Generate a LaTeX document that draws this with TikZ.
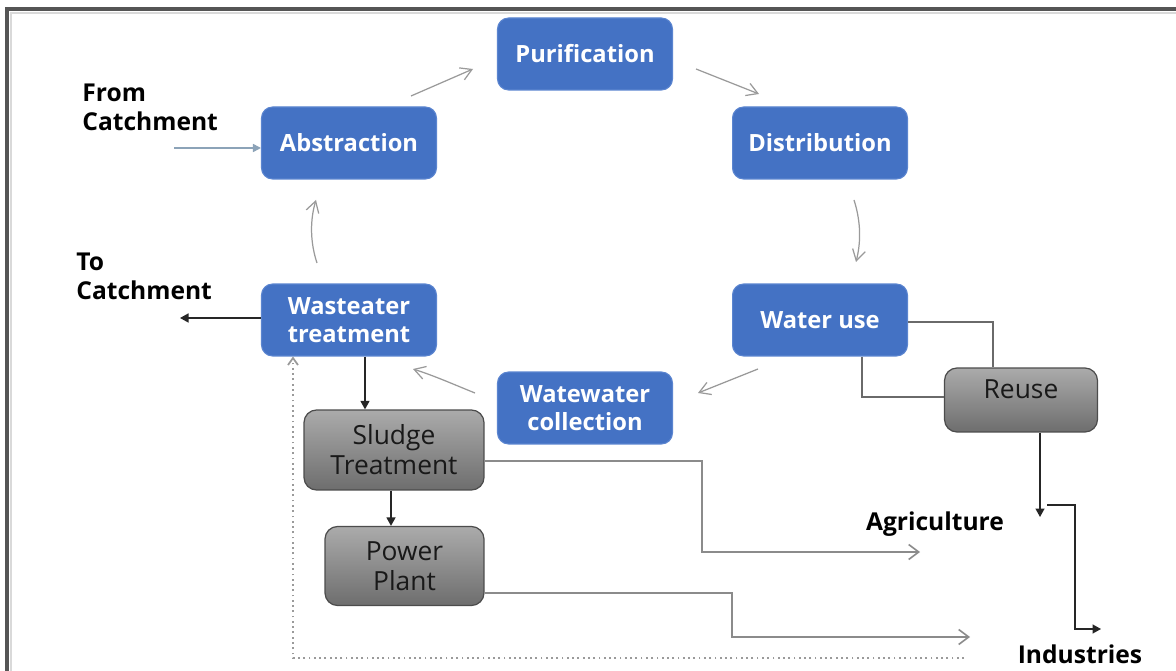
\documentclass[tikz,border=0pt]{standalone}
\usepackage{fontspec}
\setmainfont{Open Sans}
\usetikzlibrary{arrows.meta}
\definecolor{boxblue}{HTML}{4472C4}
\definecolor{boxblueedge}{HTML}{5B85D0}
\definecolor{arrgray}{HTML}{9A9A9A}
\definecolor{linegray}{HTML}{6A6A6A}
\definecolor{frame}{HTML}{555555}
\definecolor{fromblue}{HTML}{8CA3B8}
\begin{document}
\begin{tikzpicture}[x=0.02cm,y=-0.02cm,
  bluebox/.style={draw=boxblueedge,line width=0.6pt,fill=boxblue,rounded corners=0.22cm,
    text=white,font=\fontsize{13.5}{16}\selectfont\bfseries,align=center,
    minimum width=3.5cm,minimum height=1.44cm,inner sep=2pt},
  graybox/.style={draw=black!70,line width=0.7pt,rounded corners=0.25cm,
    top color=black!33,bottom color=black!57,
    text=black!90,font=\fontsize{15}{17}\selectfont,align=center,inner sep=2pt},
  lbl/.style={font=\fontsize{14}{16}\selectfont\bfseries,align=left,text=black},
  softarr/.style={draw=arrgray,line width=0.7pt,-{Straight Barb[length=2.2mm,width=2.6mm]}},
  blackarr/.style={draw=black!85,line width=0.8pt,-{Triangle[length=1.7mm,width=1.8mm]}},
  plainline/.style={draw=linegray,line width=0.8pt},
  openarr/.style={draw=arrgray!90!black,line width=0.9pt,-{Straight Barb[length=2mm,width=3mm]}},
]
\useasboundingbox (0,0) rectangle (1176,671);
\fill[white] (0,0) rectangle (1176,671);
% frame
\draw[frame,line width=2.2pt] (1176,9) -- (7,9) -- (7,671);
\draw[black!15,line width=1pt] (1176,13) -- (11,13) -- (11,671);

% nodes
\node[bluebox] (pur) at (585,54) {Purification};
\node[bluebox] (abs) at (349,143) {Abstraction};
\node[bluebox] (dis) at (820,143) {Distribution};
\node[bluebox] (use) at (820,320) {Water use};
\node[bluebox] (wt)  at (349,320) {Wasteater\\treatment};
\node[bluebox] (wc)  at (585,408) {Watewater\\collection};
\node[graybox,minimum width=3.6cm,minimum height=1.6cm] (sl) at (394,450) {Sludge\\Treatment};
\node[graybox,minimum width=3.18cm,minimum height=1.58cm] (pp) at (404.5,566) {Power\\Plant};
\node[graybox,minimum width=3.06cm,minimum height=1.28cm,text depth=0.45cm] (re) at (1021,400) {Reuse};

% labels
\node[lbl,anchor=north west,inner sep=0pt] (fromc) at (82,84) {From\\Catchment};
\node[lbl,anchor=north west,inner sep=0pt] (toc) at (76,253) {To\\Catchment};
\node[lbl,inner sep=0pt] (agr) at (935,524) {Agriculture};
\node[lbl,inner sep=0pt] (ind) at (1080,654) {Industries};

% coordinates for free ends
\coordinate (fcs) at (174,148);
\coordinate (tce) at (180,318);
\coordinate (a1) at (411,96);   \coordinate (a2) at (473,69);
\coordinate (p1) at (696,69);   \coordinate (p2) at (759,94);
\coordinate (d1) at (854,200);  \coordinate (d2) at (856,262);
\coordinate (u1) at (758,369);  \coordinate (u2) at (698,393);
\coordinate (c1) at (475,393);  \coordinate (c2) at (413,369);
\coordinate (w1) at (317,263);  \coordinate (w2) at (316,200);
\coordinate (r1) at (1047,505);
\coordinate (agrend) at (920,552);
\coordinate (indend) at (970,637);
\coordinate (dots) at (964,658);

% cycle arrows
\draw[draw=fromblue,line width=0.9pt,-{Triangle[length=1.6mm,width=1.6mm]}] (fcs) -- (fcs -| abs.west);
\draw[softarr] (a1) -- (a2);
\draw[softarr] (p1) -- (p2);
\draw[softarr] (d1) .. controls (861,222) and (861,242) .. (d2);
\draw[softarr] (u1) -- (u2);
\draw[softarr] (c1) .. controls (455,385) and (435,376) .. (c2);
\draw[softarr] (w1) .. controls (310,242) and (310,220) .. (w2);

% black arrows
\draw[blackarr] (wt.west |- tce) -- (tce);
\draw[blackarr] (wt.south -| 365,0) -- (sl.north -| 365,0);
\draw[blackarr] (sl.south -| 391,0) -- (pp.north -| 391,0);

% water use to reuse
\draw[plainline] (use.east |- 0,322) -- (993,322) -- (re.north -| 993,0);
\draw[plainline] (use.south -| 862,0) -- (862,397) -- (re.west |- 0,397);

% reuse outputs
\draw[blackarr] (re.south -| 1040,0) -- (1040,517);
\draw[blackarr] (r1) -- (1075,505) -- (1075,629) -- (1101,629);

% sludge and power plant outputs
\draw[openarr] (sl.east |- 0,461) -- (702,461) -- (702,552) -- (agrend);
\draw[openarr] (pp.east |- 0,593) -- (732,593) -- (732,637) -- (indend);

% dotted return
\draw[draw=arrgray,line width=1pt,dotted,-{Straight Barb[length=1.4mm,width=2mm]}] (dots) -- (293,658) -- (wt.south -| 293,0);
\end{tikzpicture}
\end{document}
